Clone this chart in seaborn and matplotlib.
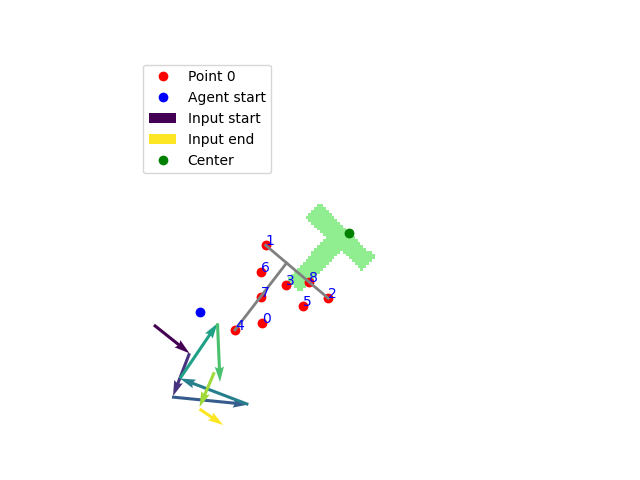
import numpy as np
import matplotlib
matplotlib.use("Agg")
import matplotlib.pyplot as plt
from matplotlib.colors import ListedColormap
from matplotlib.lines import Line2D
from matplotlib.patches import Patch
import seaborn as sns

# ---- data ----
point_ids = [0, 1, 2, 3, 4, 5, 6, 7, 8]
point_x = [175.9, 180.8, 267.5, 208.5, 138.3, 232.0, 173.9, 173.9, 241.1]
point_y = [143.8, 252.0, 178.6, 197.0, 134.7, 167.9, 214.5, 180.0, 201.7]

agent_start_x = [89.8]
agent_start_y = [159.6]

center_x = [296.6]
center_y = [268.5]

# T skeleton segments (bar between points 1 and 2, stem from point 4)
skeleton_x = [[180.8, 267.5], [138.3, 209.7]]
skeleton_y = [[252.0, 178.6], [134.7, 227.5]]

# input arrows: start positions and displacement
arrow_x = [26.0, 75.2, 51.0, 156.7, 62.1, 114.0, 109.6, 89.1]
arrow_y = [141.6, 102.4, 41.8, 31.4, 67.5, 143.9, 76.1, 25.2]
arrow_dx = [49.2, -22.8, 105.7, -94.6, 51.9, 3.5, -20.5, 32.9]
arrow_dy = [-39.2, -59.2, -10.4, 36.1, 76.4, -81.3, -48.1, -22.2]

# T block pose (push-T geometry: bar 120x30, stem 30x90)
t_center = (284.7, 262.8)
t_angle_deg = -43.8
t_scale = 0.91
grid_n = 128
world_size = 512.0
x_limits = (1.4, 532.8)
y_limits = (0.0, 512.0)

# ---- rasterise T ----
cell = world_size / grid_n
cs = (np.arange(grid_n) + 0.5) * cell
X, Y = np.meshgrid(cs, cs)
th = np.deg2rad(t_angle_deg)
dx = X - t_center[0]
dy = Y - t_center[1]
lx = dx * np.cos(th) + dy * np.sin(th)
ly = -dx * np.sin(th) + dy * np.cos(th)
s = t_scale
bar = (np.abs(lx) <= 60 * s) & (np.abs(ly) <= 15 * s)
stem = (np.abs(lx) <= 15 * s) & (ly <= -15 * s) & (ly >= -105 * s)
mask = bar | stem

# ---- plot ----
fig, ax = plt.subplots(figsize=(6.4, 4.8), dpi=100)
ax.imshow(np.ma.masked_where(~mask, mask.astype(float)),
          cmap=ListedColormap(["lightgreen"]), origin="lower",
          extent=(0, world_size, 0, world_size), interpolation="nearest",
          zorder=0)

sns.scatterplot(x=point_x, y=point_y, color="red", s=50, linewidth=0,
                ax=ax, legend=False, zorder=1)
sns.scatterplot(x=agent_start_x, y=agent_start_y, color="blue", s=50,
                linewidth=0, ax=ax, legend=False, zorder=1)
sns.scatterplot(x=center_x, y=center_y, color="green", s=50,
                linewidth=0, ax=ax, legend=False, zorder=1)

for sx, sy in zip(skeleton_x, skeleton_y):
    ax.plot(sx, sy, color="gray", linewidth=2, zorder=2)

for i, x, y in zip(point_ids, point_x, point_y):
    ax.text(x, y, str(i), color="blue", fontsize=10, zorder=3)

colors = plt.cm.viridis(np.linspace(0, 1, len(arrow_x)))
ax.quiver(arrow_x, arrow_y, arrow_dx, arrow_dy, color=colors,
          angles="xy", scale_units="xy", scale=1, width=0.008, zorder=2)

ax.set_xlim(*x_limits)
ax.set_ylim(*y_limits)
ax.set_aspect("equal")
ax.axis("off")

handles = [
    Line2D([], [], linestyle="none", marker="o", markersize=7,
           markerfacecolor="red", markeredgecolor="none", label="Point 0"),
    Line2D([], [], linestyle="none", marker="o", markersize=7,
           markerfacecolor="blue", markeredgecolor="none", label="Agent start"),
    Patch(facecolor=colors[0], label="Input start"),
    Patch(facecolor=colors[-1], label="Input end"),
    Line2D([], [], linestyle="none", marker="o", markersize=7,
           markerfacecolor="green", markeredgecolor="none", label="Center"),
]
ax.legend(handles=handles, loc="upper left")

fig.savefig("out.png", dpi=100)
